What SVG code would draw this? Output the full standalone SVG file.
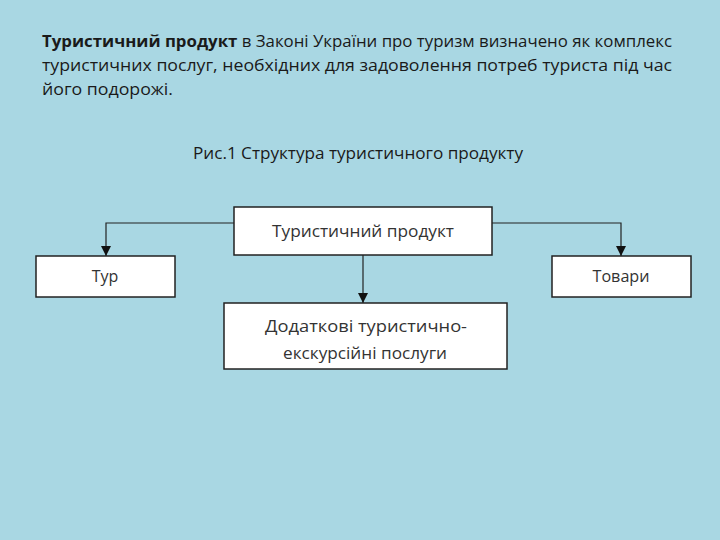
<svg xmlns="http://www.w3.org/2000/svg" width="720" height="540" viewBox="0 0 720 540">
<defs>
<marker id="arr" markerWidth="10" markerHeight="10" refX="10" refY="5" orient="auto" markerUnits="userSpaceOnUse" viewBox="0 0 10 10">
<path d="M0,0 L10,5 L0,10 Z" fill="#111"/>
</marker>
</defs>
<style>
.t{font-family:"Open Sans","Liberation Sans",sans-serif;font-size:16px;fill:#1a1a1a}
.b{fill:#fff;stroke:#222;stroke-width:1.5}
.bt{font-family:"Open Sans","Liberation Sans",sans-serif;font-size:16px;fill:#333;text-anchor:middle}
.c{fill:none;stroke:#222;stroke-width:1.2}
</style>
<rect x="0" y="0" width="720" height="540" fill="#a9d7e3"/>
<text class="t" x="42" y="47" textLength="630" lengthAdjust="spacingAndGlyphs"><tspan font-weight="bold">Туристичний продукт</tspan> в Законі України про туризм визначено як комплекс</text>
<text class="t" x="42" y="71" textLength="630" lengthAdjust="spacingAndGlyphs">туристичних послуг, необхідних для задоволення потреб туриста під час</text>
<text class="t" x="42" y="95" textLength="131" lengthAdjust="spacingAndGlyphs">його подорожі.</text>
<text class="t" x="193" y="159" textLength="330" lengthAdjust="spacingAndGlyphs">Рис.1 Структура туристичного продукту</text>
<g id="connectors">
<polyline class="c" points="234,223 106,223 106,256" marker-end="url(#arr)"/>
<polyline class="c" points="492,223 621,223 621,256" marker-end="url(#arr)"/>
<line class="c" x1="363" y1="255" x2="363" y2="303" marker-end="url(#arr)"/>
</g>
<g id="node-product">
<rect class="b" x="234" y="207" width="258" height="48"/>
<text class="bt" x="363" y="237" textLength="182" lengthAdjust="spacingAndGlyphs">Туристичний продукт</text>
</g>
<g id="node-tour">
<rect class="b" x="36" y="256" width="139" height="41"/>
<text class="bt" x="105" y="282">Тур</text>
</g>
<g id="node-goods">
<rect class="b" x="552" y="256" width="139" height="41"/>
<text class="bt" x="621" y="282" textLength="57" lengthAdjust="spacingAndGlyphs">Товари</text>
</g>
<g id="node-services">
<rect class="b" x="224" y="303" width="283" height="66"/>
<text class="bt" x="366" y="332" textLength="202" lengthAdjust="spacingAndGlyphs">Додаткові туристично-</text>
<text class="bt" x="365" y="359" textLength="164" lengthAdjust="spacingAndGlyphs">екскурсійні послуги</text>
</g>
</svg>
